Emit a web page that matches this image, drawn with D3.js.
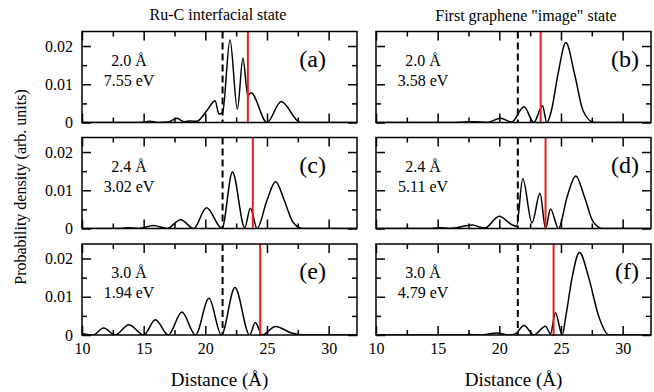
<!DOCTYPE html>
<html><head><meta charset="utf-8">
<script src="https://cdn.jsdelivr.net/npm/d3@7"></script>
</head>
<body style="margin:0"><svg id="chart" width="654" height="392"></svg>
<script>
// ---------- data ----------
const columnTitles = ["Ru-C interfacial state", "First graphene \"image\" state"];
const panelLetters = ["(a)", "(b)", "(c)", "(d)", "(e)", "(f)"];
const separations = ["2.0 Å", "2.0 Å", "2.4 Å", "2.4 Å", "3.0 Å", "3.0 Å"];
const energies = ["7.55 eV", "3.58 eV", "3.02 eV", "5.11 eV", "1.94 eV", "4.79 eV"];
const rutheniumSurface = [21.4, 21.5, 21.4, 21.5, 21.4, 21.5];
const graphenePlane = [23.45, 23.35, 23.85, 23.75, 24.45, 24.4];
const xMajorTicks = [10, 15, 20, 25, 30];
const xMinorTicks = [12.5, 17.5, 22.5, 27.5];
const yMajorTicks = [0, 0.01, 0.02];
const yMinorTicks = [0.005, 0.015];
const yTickLabels = ["0", "0.01", "0.02"];

const panelA_x = [10, 14.6, 15.5, 16.3, 17.0, 17.7, 18.3, 18.8, 19.3, 20.1, 20.8, 21.1, 21.4, 22.0, 22.6, 23.05, 23.45, 23.7, 25.0, 26.15, 27.7, 32.3];
const panelA_y = [0, 0, 0.0003, 0, 0.0001, 0.0011, 0.0002, 0.0004, 0.0003, 0.003, 0.0057, 0.0022, 0.0026, 0.0216, 0.0035, 0.0168, 0.007, 0.0078, 0, 0.0055, 0, 0];

const panelB_x = [10, 16.5, 17.9, 19.0, 20.1, 21.0, 22.0, 22.8, 23.5, 23.85, 24.2, 24.75, 25.4, 26.1, 26.8, 27.7, 32.3];
const panelB_y = [0, 0, 0.0002, 0, 0.0011, 0.0001, 0.0041, 0, 0.0044, 0, 0.0028, 0.0125, 0.0209, 0.0127, 0.003, 0, 0];

const panelC_x = [10, 13.0, 13.6, 14.6, 15.8, 16.9, 18.0, 19.05, 20.1, 21.35, 22.2, 23.2, 23.65, 24.2, 25.0, 25.7, 26.4, 27.1, 27.9, 32.3];
const panelC_y = [0, 0, 0.0002, 0, 0.0008, 0, 0.0023, 0, 0.0054, 0, 0.0148, 0.0002, 0.0053, 0, 0.0074, 0.0122, 0.0074, 0.0017, 0, 0];

const panelD_x = [10, 14.5, 15.2, 16.0, 17.8, 18.8, 20.0, 21.0, 21.4, 21.9, 22.65, 23.3, 23.75, 24.15, 24.8, 25.5, 26.2, 26.9, 27.6, 28.4, 32.3];
const panelD_y = [0, 0, 0.0002, 0, 0.0009, 0.0001, 0.0032, 0.001, 0.0006, 0.013, 0.0015, 0.0092, 0, 0.0051, 0, 0.0083, 0.0137, 0.0083, 0.0018, 0, 0];

const panelE_x = [10, 10.9, 11.75, 12.7, 13.8, 15.0, 15.95, 17.0, 18.1, 19.2, 20.3, 21.3, 22.4, 23.6, 24.05, 24.6, 25.7, 27.0, 28.0, 32.3];
const panelE_y = [0.0004, 0, 0.0018, 0, 0.0027, 0, 0.004, 0, 0.006, 0, 0.0096, 0, 0.0124, 0, 0.0033, 0, 0.0022, 0.0005, 0, 0];

const panelF_x = [10, 17.0, 17.6, 18.5, 19.8, 20.8, 21.3, 22.0, 22.8, 23.75, 24.15, 24.55, 25.1, 25.4, 25.9, 26.5, 27.25, 28.05, 28.9, 32.3];
const panelF_y = [0, 0, 0.0001, 0, 0.0005, 0, 0.0003, 0.0025, 0, 0.0023, 0.0003, 0.0058, 0, 0.005, 0.015, 0.0216, 0.015, 0.005, 0, 0];

const panelX = [panelA_x, panelB_x, panelC_x, panelD_x, panelE_x, panelF_x];
const panelY = [panelA_y, panelB_y, panelC_y, panelD_y, panelE_y, panelF_y];

// ---------- layout ----------
const FONT = "'Times New Roman'";
const svg = d3.select("#chart");
const colLeft = [82, 376];
const rowTop = [31.5, 137.5, 244];
const pw = 275, ph = 91;
const x = d3.scaleLinear().domain([10, 32.3]).range([0, pw]);
const y = d3.scaleLinear().domain([0, 0.0238]).range([ph, 0]);
const line = d3.line().x((d) => x(d[0])).y((d) => y(d[1])).curve(d3.curveMonotoneX);

svg.append("defs").append("clipPath").attr("id", "clip")
  .append("rect").attr("width", pw).attr("height", ph);

function addText(sel, size) {
  return sel.append("text").style("font-family", FONT).style("font-size", size + "px").attr("fill", "#000");
}

function styleAxis(g) {
  g.select(".domain").remove();
  g.selectAll(".tick line").attr("stroke", "#000").attr("stroke-width", 1.5);
  // replace the axis' own labels by serif text nodes at the same place
  g.selectAll(".tick").each(function () {
    const t = d3.select(this).select("text");
    const s = t.text();
    if (s) {
      const a = d3.select(this).append("text").style("font-family", FONT).style("font-size", "16px")
        .attr("fill", "#000").attr("x", t.attr("x")).attr("y", t.attr("y")).attr("dy", t.attr("dy"))
        .attr("text-anchor", g.attr("text-anchor")).text(s);
    }
    t.remove();
  });
}

for (let i = 0; i < 6; i++) {
  const col = i % 2, row = Math.floor(i / 2);
  const g = svg.append("g").attr("transform", `translate(${colLeft[col]},${rowTop[row]})`);

  // reference lines
  g.append("line").attr("x1", x(rutheniumSurface[i])).attr("x2", x(rutheniumSurface[i]))
    .attr("y1", 0).attr("y2", ph).attr("stroke", "#000").attr("stroke-width", 2)
    .attr("stroke-dasharray", "7,4");

  // curve
  const pts = panelX[i].map((v, k) => [v, panelY[i][k]]);
  g.append("path").attr("d", line(pts)).attr("clip-path", "url(#clip)")
    .attr("fill", "none").attr("stroke", "#000").attr("stroke-width", 1.5);

  g.append("line").attr("x1", x(graphenePlane[i])).attr("x2", x(graphenePlane[i]))
    .attr("y1", 0).attr("y2", ph + 1).attr("stroke", "#ee1c1c").attr("stroke-width", 2);

  // axes (inward ticks)
  const bottom = g.append("g").attr("transform", `translate(0,${ph})`)
    .call(d3.axisBottom(x).tickValues(xMajorTicks).tickSize(-9).tickPadding(8)
      .tickFormat(row === 2 ? d3.format("d") : () => ""));
  styleAxis(bottom);
  const bottomMinor = g.append("g").attr("transform", `translate(0,${ph})`)
    .call(d3.axisBottom(x).tickValues(xMinorTicks).tickSize(-5).tickFormat(() => ""));
  styleAxis(bottomMinor);
  const top = g.append("g").call(d3.axisTop(x).tickValues(xMajorTicks).tickSize(-9).tickFormat(() => ""));
  styleAxis(top);
  const topMinor = g.append("g").call(d3.axisTop(x).tickValues(xMinorTicks).tickSize(-5).tickFormat(() => ""));
  styleAxis(topMinor);

  const left = g.append("g").call(d3.axisLeft(y).tickValues(yMajorTicks).tickSize(-9).tickPadding(9)
    .tickFormat((d, k) => col === 0 ? yTickLabels[k] : ""));
  styleAxis(left);
  const leftMinor = g.append("g").call(d3.axisLeft(y).tickValues(yMinorTicks).tickSize(-5).tickFormat(() => ""));
  styleAxis(leftMinor);
  const right = g.append("g").attr("transform", `translate(${pw},0)`)
    .call(d3.axisRight(y).tickValues(yMajorTicks).tickSize(-9).tickFormat(() => ""));
  styleAxis(right);
  const rightMinor = g.append("g").attr("transform", `translate(${pw},0)`)
    .call(d3.axisRight(y).tickValues(yMinorTicks).tickSize(-5).tickFormat(() => ""));
  styleAxis(rightMinor);

  // frame
  g.append("rect").attr("width", pw).attr("height", ph).attr("fill", "none")
    .attr("stroke", "#000").attr("stroke-width", 1.5);

  // annotations
  addText(g, 16).attr("x", 47).attr("y", 34).attr("text-anchor", "middle").text(separations[i]);
  addText(g, 16).attr("x", 47).attr("y", 54).attr("text-anchor", "middle").text(energies[i]);
  addText(g, 24).attr("x", col === 0 ? pw - 31 : pw - 12).attr("y", 35).attr("text-anchor", "end")
    .text(panelLetters[i]);
}

// column titles
addText(svg, 16).attr("x", 218).attr("y", 20).attr("text-anchor", "middle").text(columnTitles[0]);
addText(svg, 16).attr("x", 526).attr("y", 21).attr("text-anchor", "middle").text(columnTitles[1]);

// x labels
addText(svg, 19).attr("x", colLeft[0] + pw / 2).attr("y", 386).attr("text-anchor", "middle").text("Distance (Å)");
addText(svg, 19).attr("x", colLeft[1] + pw / 2).attr("y", 386).attr("text-anchor", "middle").text("Distance (Å)");

// y label
addText(svg, 16).attr("transform", "translate(26,187) rotate(-90)").attr("text-anchor", "middle")
  .text("Probability density (arb. units)");
</script></body></html>
